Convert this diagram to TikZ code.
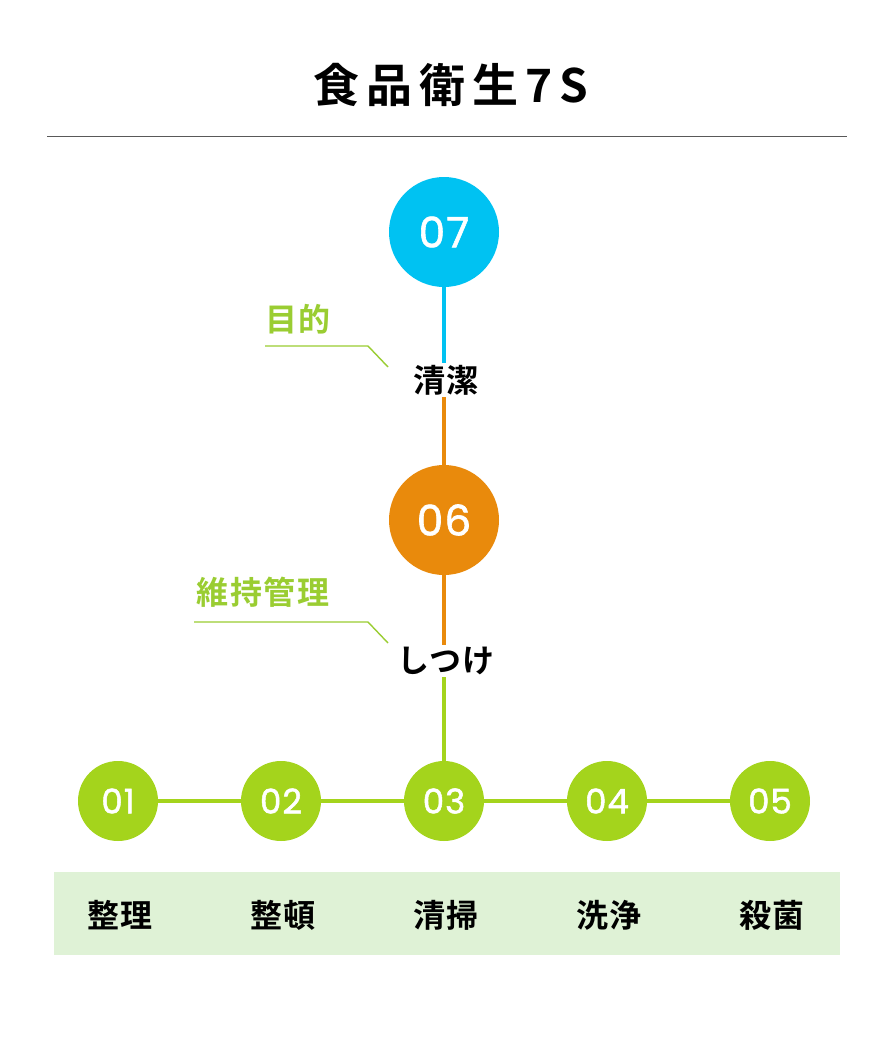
\documentclass[tikz,border=0pt]{standalone}
\usepackage{fontspec}
\setmainfont{Noto Sans CJK JP}[BoldFont={* Bold}]
\newfontfamily\titlefont{Noto Sans CJK JP}[UprightFont={* Bold},LetterSpace=15]
\newfontfamily\wordfont{Noto Sans CJK JP}[UprightFont={* Bold},LetterSpace=5]
\newfontfamily\numfont{Poppins}[FakeBold=1.5,LetterSpace=3]
\definecolor{cyanc}{HTML}{00C2F2}
\definecolor{orangec}{HTML}{E98A0C}
\definecolor{greenc}{HTML}{A4D41C}
\definecolor{lgreen}{HTML}{DFF2D6}
\definecolor{labelg}{HTML}{9ACD32}
\begin{document}
\begin{tikzpicture}[x=1pt,y=-1pt,
  bigc/.style={circle,minimum size=110pt,inner sep=0pt,text=white,font=\numfont\fontsize{42}{42}\selectfont},
  smallc/.style={circle,fill=greenc,minimum size=80pt,inner sep=0pt,text=white,font=\numfont\fontsize{34}{34}\selectfont},
  word/.style={font=\wordfont\fontsize{32}{32}\selectfont,text=black,inner sep=2pt},
  glabel/.style={font=\wordfont\fontsize{32}{32}\selectfont,text=labelg,inner sep=0pt},
  conn/.style={line width=3.5pt},
  leader/.style={draw=labelg,line width=1.4pt}]
\useasboundingbox (0,0) rectangle (894,1060);
\fill[white] (0,0) rectangle (894,1060);
% title
\node[font=\titlefont\fontsize{46}{46}\selectfont] (title) at (451,85) {食品衛生7S};
\draw[gray!70!black,line width=1pt] (47,136) -- (847,136);
% top circles
\node[bigc,fill=cyanc] (c7) at (444,232) {07};
\node[word] (seiketsu) at (446,380) {清潔};
\node[bigc,fill=orangec] (c6) at (444,520) {06};
\node[word] (shitsuke) at (446,661) {しつけ};
% bottom circles
\node[smallc] (c1) at (118,801) {01};
\node[smallc] (c2) at (281,801) {02};
\node[smallc] (c3) at (444,801) {03};
\node[smallc] (c4) at (607,801) {04};
\node[smallc] (c5) at (770,801) {05};
% connectors
\draw[conn,cyanc] (c7.south) -- (c7.south |- seiketsu.north);
\draw[conn,orangec] (c6.north |- seiketsu.south) -- (c6.north);
\draw[conn,orangec] (c6.south) -- (c6.south |- shitsuke.north);
\draw[conn,greenc] (c3.north |- shitsuke.south) -- (c3.north);
\draw[conn,greenc] (c1) -- (c2);
\draw[conn,greenc] (c2) -- (c3);
\draw[conn,greenc] (c3) -- (c4);
\draw[conn,greenc] (c4) -- (c5);
% bottom band
\fill[lgreen] (54,872) rectangle (840,955);
\node[word] (w1) at (120,915) {整理};
\node[word] (w2) at (283,915) {整頓};
\node[word] (w3) at (446,915) {清掃};
\node[word] (w4) at (609,915) {洗浄};
\node[word] (w5) at (772,915) {殺菌};
% leader labels
\node[glabel] (mokuteki) at (298,319) {目的};
\coordinate (m1) at (265,346);
\coordinate (m2) at (368,346);
\coordinate (m3) at (388,367);
\draw[leader] (m1) -- (m2) -- (m3);
\node[glabel] (iji) at (263,592) {維持管理};
\coordinate (i1) at (194,622);
\coordinate (i2) at (368,622);
\coordinate (i3) at (388,643);
\draw[leader] (i1) -- (i2) -- (i3);
\end{tikzpicture}
\end{document}
